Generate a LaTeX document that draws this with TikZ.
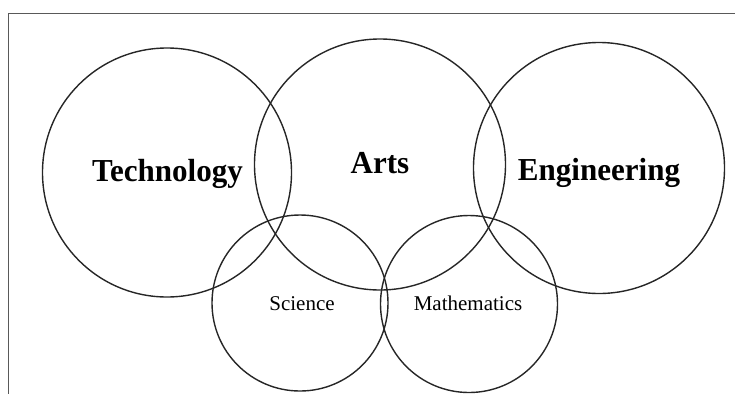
\documentclass[tikz,border=0pt]{standalone}
\usepackage{fontspec}
\setmainfont{Liberation Serif}
\begin{document}
\begin{tikzpicture}[x=1bp,y=-1bp,
  ring/.style={draw=black!85,line width=1.4bp},
  frameline/.style={draw=black!65,line width=1bp},
  bigword/.style={font=\fontsize{32bp}{36bp}\selectfont\bfseries,anchor=base,inner sep=0pt,xscale=0.97},
  smallword/.style={font=\fontsize{21bp}{24bp}\selectfont,anchor=base,inner sep=0pt}]
\useasboundingbox (0,0) rectangle (735,394);
% frame
\coordinate (ftr) at (735,13);
\coordinate (ftl) at (8,13);
\coordinate (fbl) at (8,394);
\draw[frameline] (ftr) -- (ftl) -- (fbl);
% circles
\node[ring,circle,minimum size=249bp,inner sep=0pt] (tech) at (167,172.5) {};
\node[ring,circle,minimum size=251bp,inner sep=0pt] (arts) at (380,164.5) {};
\node[ring,circle,minimum size=251bp,inner sep=0pt] (eng) at (599,168) {};
\node[ring,circle,minimum size=176bp,inner sep=0pt] (sci) at (300,303) {};
\node[ring,circle,minimum size=177bp,inner sep=0pt] (math) at (469,304) {};
% labels
\node[bigword] (ttech) at (167.5,181.7) {Technology};
\node[bigword] (tarts) at (380,173.3) {Arts};
\node[bigword] (teng) at (599,180.7) {Engineering};
\node[smallword] (tsci) at (302,310) {Science};
\node[smallword] (tmath) at (468,310) {Mathematics};
\end{tikzpicture}
\end{document}
